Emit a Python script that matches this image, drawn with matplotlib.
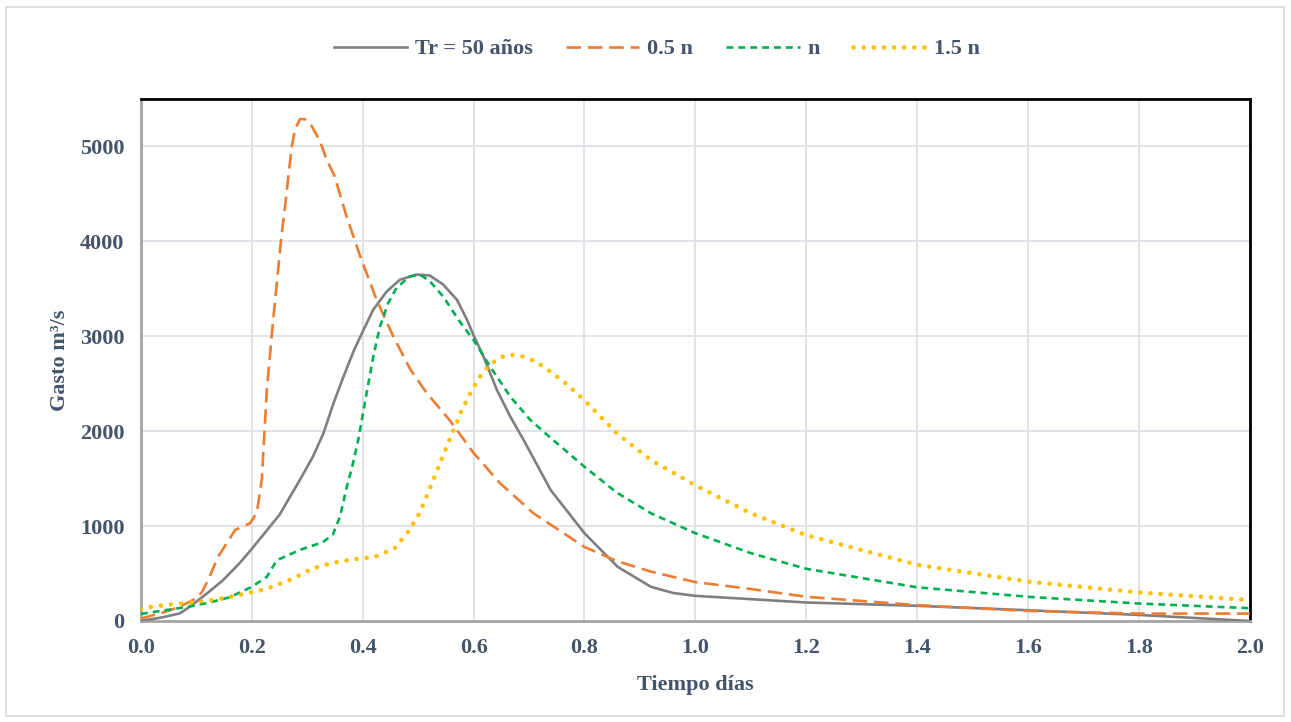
import matplotlib.pyplot as plt
from matplotlib.patches import Rectangle

# hidrogramas (tiempo en dias, gasto en m3/s)
t_tr = [0, 0.04, 0.07, 0.088, 0.119, 0.148, 0.178, 0.2, 0.25, 0.287, 0.31, 0.329, 0.347, 0.365,
        0.383, 0.4, 0.419, 0.443, 0.467, 0.497, 0.521, 0.545, 0.57, 0.588, 0.6, 0.618, 0.642,
        0.666, 0.69, 0.739, 0.8, 0.86, 0.92, 0.96, 1.0, 1.1, 1.2, 1.4, 1.6, 1.8, 2.0]
q_tr = [0, 40, 80, 150, 290, 430, 610, 760, 1120, 1490, 1730, 1975, 2290, 2570,
        2835, 3050, 3280, 3470, 3595, 3650, 3640, 3545, 3385, 3175, 3010, 2785, 2435,
        2155, 1910, 1380, 925, 570, 360, 295, 265, 230, 195, 160, 113, 64, 0]

t_05 = [0, 0.04, 0.07, 0.1, 0.11, 0.121, 0.139, 0.17, 0.197, 0.209, 0.218, 0.227, 0.238, 0.254,
        0.26, 0.266, 0.272, 0.278, 0.287, 0.296, 0.308, 0.323, 0.335, 0.349, 0.371, 0.395,
        0.425, 0.455, 0.486, 0.515, 0.557, 0.6, 0.648, 0.708, 0.8, 0.859, 0.92, 1.0, 1.1,
        1.2, 1.4, 1.6, 1.8, 2.0]
q_05 = [25, 90, 150, 240, 305, 430, 675, 960, 1030, 1140, 1490, 2437, 3143, 4090,
        4370, 4690, 5000, 5180, 5290, 5285, 5215, 5055, 4860, 4690, 4260, 3850,
        3385, 3000, 2650, 2405, 2115, 1770, 1450, 1135, 780, 630, 520, 410, 337,
        255, 167, 106, 78, 78]

t_n = [0, 0.04, 0.085, 0.12, 0.16, 0.2, 0.227, 0.245, 0.287, 0.328, 0.346, 0.359, 0.373, 0.38,
       0.392, 0.407, 0.419, 0.431, 0.446, 0.461, 0.485, 0.503, 0.521, 0.545, 0.575, 0.6, 0.63,
       0.666, 0.702, 0.729, 0.8, 0.859, 0.92, 1.0, 1.1, 1.2, 1.4, 1.6, 1.8, 2.0]
q_n = [75, 110, 150, 190, 250, 360, 465, 640, 750, 830, 910, 1100, 1455, 1600,
       1910, 2400, 2785, 3100, 3350, 3510, 3630, 3650, 3580, 3420, 3155, 2960, 2680,
       2365, 2120, 1980, 1625, 1350, 1135, 925, 715, 550, 355, 255, 184, 135]

t_15 = [0, 0.02, 0.055, 0.1, 0.14, 0.178, 0.214, 0.236, 0.272, 0.308, 0.344, 0.382, 0.422,
        0.458, 0.482, 0.503, 0.518, 0.525, 0.562, 0.57, 0.577, 0.586, 0.595, 0.605, 0.615,
        0.628, 0.644, 0.662, 0.681, 0.70, 0.718, 0.733, 0.766, 0.8, 0.859, 0.92, 1.0, 1.1,
        1.2, 1.4, 1.6, 1.8, 2.0]
q_15 = [125, 150, 175, 200, 230, 275, 320, 360, 440, 550, 610, 650, 675,
        770, 940, 1140, 1350, 1455, 1990, 2095, 2200, 2305, 2410, 2510, 2605,
        2690, 2765, 2805, 2800, 2765, 2710, 2650, 2505, 2325, 1975, 1695, 1430, 1135,
        904, 592, 415, 301, 220]

txt = '#44546A'
plt.rcParams['font.family'] = ['Liberation Serif', 'DejaVu Serif']
plt.rcParams['font.weight'] = 'bold'

fig = plt.figure(figsize=(12.91, 7.22), dpi=100)
ax = fig.add_axes([0.1092, 0.1399, 0.8588, 0.7230])

# borde del area del grafico
fig.patches.append(Rectangle((6 / 1291, 6 / 722), 1 - 13 / 1291, 1 - 13 / 722,
                             transform=fig.transFigure, fill=False, ec='#D9D9D9', lw=1.2))

ax.plot(t_tr, q_tr, color='#7F7F7F', lw=1.9, label='Tr = 50 años', zorder=3)
ax.plot(t_05, q_05, color='#ED7D31', lw=1.9, dashes=(5.5, 2.6), label='0.5 n', zorder=4)
ax.plot(t_n, q_n, color='#00B050', lw=1.9, dashes=(2.6, 1.9), label='n', zorder=5)
ax.plot(t_15, q_15, color='#FFC000', lw=3.3, linestyle=(0, (0.01, 2.2)),
        dash_capstyle='round', label='1.5 n', zorder=6)

ax.set_xlim(0, 2.0)
ax.set_ylim(0, 5500)
ax.set_xticks([i * 0.2 for i in range(11)])
ax.set_xticklabels(['%.1f' % (i * 0.2) for i in range(11)])
ax.set_yticks([0, 1000, 2000, 3000, 4000, 5000])
ax.grid(True, color='#DDE1E8', lw=1.3)
ax.set_axisbelow(True)

ax.tick_params(axis='both', length=0, labelsize=16, labelcolor=txt)
ax.tick_params(axis='x', pad=12)
ax.tick_params(axis='y', pad=12)

for s in ['top', 'right']:
    ax.spines[s].set_color('black')
    ax.spines[s].set_linewidth(2)
for s in ['left', 'bottom']:
    ax.spines[s].set_color('#A5A5A5')
    ax.spines[s].set_linewidth(2)

ax.set_xlabel('Tiempo días', fontsize=16, color=txt, fontweight='bold')
ax.set_ylabel('Gasto m³/s', fontsize=16, color=txt, fontweight='bold')
ax.xaxis.set_label_coords(0.5, -0.103)
ax.yaxis.set_label_coords(-0.064, 0.5)

fig.legend(loc='center', bbox_to_anchor=(0.509, 0.932), ncol=4, frameon=False,
           fontsize=16, labelcolor=txt, handlelength=3.3, handletextpad=0.35,
           columnspacing=1.5)

fig.savefig('out.png', dpi=100)
